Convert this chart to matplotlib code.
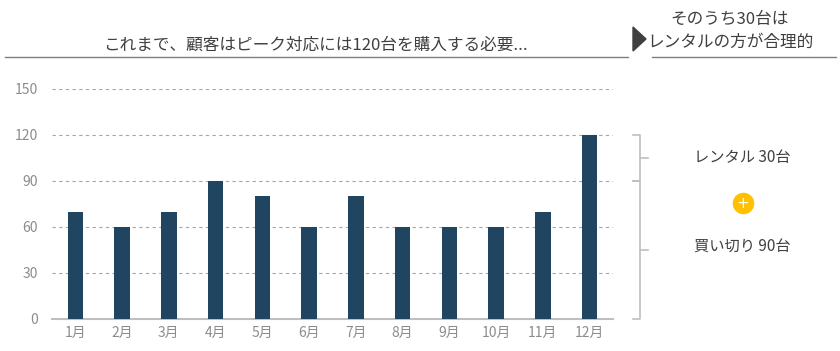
import matplotlib.pyplot as plt
from matplotlib.patches import Polygon
from matplotlib.transforms import blended_transform_factory

plt.rcParams['font.family'] = ['Noto Sans CJK JP', 'DejaVu Sans']

months = ['1月', '2月', '3月', '4月', '5月', '6月', '7月', '8月', '9月', '10月', '11月', '12月']
units = [70, 60, 70, 90, 80, 60, 80, 60, 60, 60, 70, 120]
yticks = [0, 30, 60, 90, 120, 150]
buy_units = 90
rental_units = 30

title_left = 'これまで、顧客はピーク対応には120台を購入する必要...'
title_right = 'そのうち30台は\nレンタルの方が合理的'

bar_color = '#1F4560'
text_color = '#404040'
tick_color = '#8C8C8C'

fig = plt.figure(figsize=(8.4, 3.51), dpi=100)
ax = fig.add_axes([52 / 840, 32 / 351, 561 / 840, 230 / 351])

x = range(len(months))
ax.bar(x, units, width=0.33, color=bar_color, zorder=3)
ax.set_xlim(-0.5, len(months) - 0.5)
ax.set_ylim(0, 150)
ax.set_yticks(yticks)
ax.set_xticks(list(x))
ax.set_xticklabels(months)
ax.yaxis.grid(True, linestyle=(0, (3, 3)), color='#A6A6A6', linewidth=0.8)
ax.set_axisbelow(True)
for s in ['top', 'right', 'left']:
    ax.spines[s].set_visible(False)
ax.spines['bottom'].set_color('#BFBFBF')
ax.spines['bottom'].set_linewidth(1.5)
ax.tick_params(length=0, colors=tick_color, labelsize=10)
ax.tick_params(axis='y', pad=10)
ax.tick_params(axis='x', pad=5)

# headings
fig.text(315 / 840, 1 - 45 / 351, title_left, ha='center', va='center',
         fontsize=12, color=text_color)
fig.add_artist(plt.Line2D([5 / 840, 628 / 840], [1 - 57 / 351] * 2,
                          color='#7F7F7F', lw=1, transform=fig.transFigure))
fig.add_artist(Polygon([[633 / 840, 1 - 27 / 351], [633 / 840, 1 - 51 / 351],
                        [646 / 840, 1 - 39 / 351]], closed=True,
                       color='#404040', transform=fig.transFigure))
fig.text(730 / 840, 1 - 31 / 351, title_right, ha='center', va='center',
         fontsize=12, color=text_color, linespacing=1.5)
fig.add_artist(plt.Line2D([652 / 840, 836 / 840], [1 - 57 / 351] * 2,
                          color='#7F7F7F', lw=1, transform=fig.transFigure))

# braces
tr = blended_transform_factory(ax.transAxes, ax.transData)
xv = (640 - 52) / 561
xh = (633 - 52) / 561
xt = (648 - 52) / 561
peak = max(units)
for lo, hi in [(buy_units, peak), (0, buy_units)]:
    mid = (lo + hi) / 2
    ax.plot([xh, xv, xv, xh], [hi, hi, lo, lo], color='#BFBFBF', lw=1.2,
            transform=tr, clip_on=False, solid_joinstyle='round')
    ax.plot([xv, xt], [mid, mid], color='#BFBFBF', lw=1.2, transform=tr,
            clip_on=False)

xlab = (742 - 52) / 561
ax.text(xlab, (buy_units + peak) / 2, f'レンタル {rental_units}台', transform=tr,
        ha='center', va='center', fontsize=11, color=text_color)
ax.text(xlab, buy_units / 2 + 2, f'買い切り {buy_units}台', transform=tr,
        ha='center', va='center', fontsize=11, color=text_color)
fig.add_artist(plt.Line2D([743 / 840], [1 - 203 / 351], marker='o',
                          markersize=14.5, color='#FFC000', linestyle='none',
                          transform=fig.transFigure))
fig.text(743 / 840, 1 - 203.5 / 351, '+', ha='center', va='center',
         fontsize=11, color='white', family='DejaVu Sans')

fig.savefig('out.png', dpi=100)
